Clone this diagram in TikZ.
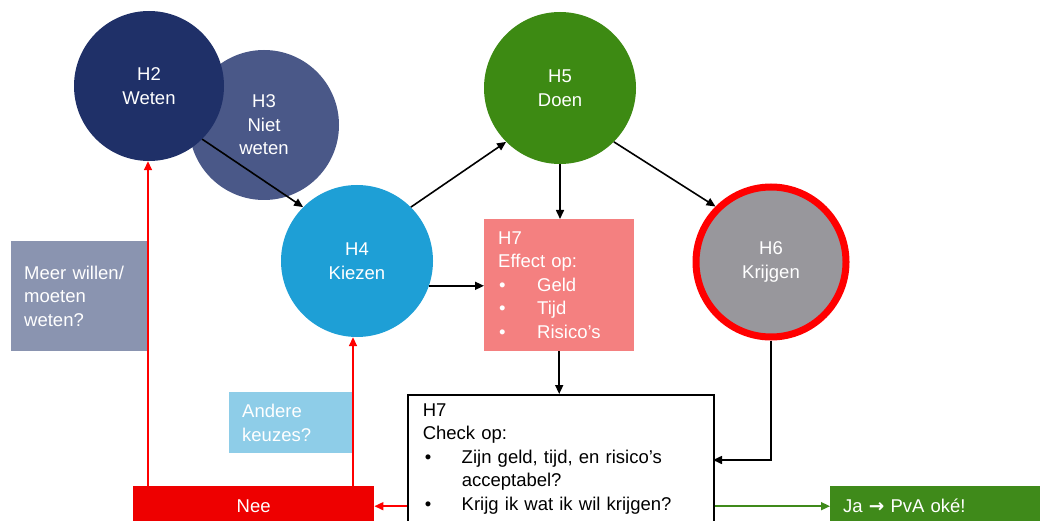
\documentclass[tikz,border=0pt]{standalone}
\usepackage{fontspec}
\setmainfont{Liberation Sans}
\newfontfamily\djv{DejaVu Sans}
\usetikzlibrary{arrows.meta}
\definecolor{cHtwo}{HTML}{1F3068}
\definecolor{cHthree}{HTML}{4A5888}
\definecolor{cHfour}{HTML}{1E9FD6}
\definecolor{cHfive}{HTML}{3D8A13}
\definecolor{cHsix}{HTML}{98979C}
\definecolor{cEffect}{HTML}{F48080}
\definecolor{cMeer}{HTML}{8A94B0}
\definecolor{cAndere}{HTML}{8ECDE8}
\definecolor{cNee}{HTML}{EE0000}
\definecolor{cJa}{HTML}{3F8A1A}
\begin{document}
\begin{tikzpicture}[x=1pt,y=-1pt,
  every node/.style={font=\fontsize{18.5}{23.5}\selectfont},
  circ/.style={circle, minimum size=150pt, inner sep=0pt, align=center, text=white},
  box/.style={rectangle, inner xsep=13pt, inner ysep=0pt, align=left, anchor=north west, text=white},
  arr/.style={line width=1.6pt, -{Triangle[length=9pt,width=8pt]}},
  redarr/.style={arr, draw=red},
  greenarr/.style={arr, draw=cJa}]
\useasboundingbox (0,0) rectangle (1043,521);
\clip (0,0) rectangle (1043,521);
% circles
\node[circ, fill=cHthree] (H3) at (264,125) {H3\\Niet\\weten};
\node[circ, fill=cHtwo] (H2) at (149,86) {H2\\Weten};
\node[circ, fill=cHfour, minimum size=152pt] (H4) at (357,261) {H4\\Kiezen};
\node[circ, fill=cHfive, minimum size=152pt] (H5) at (560,88) {H5\\Doen};
\node[circ, fill=cHsix, draw=red, line width=7pt, outer sep=3.5pt, minimum size=150pt] (H6) at (771,262) {H6\\Krijgen};
% boxes
\node[box, fill=cMeer, minimum width=137pt, minimum height=110pt, text width=111pt] (meer) at (11,241) {Meer willen/\\moeten\\weten?};
\node[box, fill=cEffect, inner xsep=14pt, minimum width=150pt, minimum height=132pt, text width=122pt] (effect) at (484,219)
  {H7\\Effect op:\\\makebox[39pt][l]{\hspace{1pt}•}Geld\\\makebox[39pt][l]{\hspace{1pt}•}Tijd\\\makebox[39pt][l]{\hspace{1pt}•}Risico’s};
\node[box, fill=cAndere, minimum width=125pt, minimum height=61pt, text width=99pt] (andere) at (229,392) {Andere\\keuzes?};
\node[box, draw=black, line width=1.5pt, text=black, inner xsep=14pt, inner ysep=9pt, minimum width=306pt, text width=276pt] (check) at (407,394)
  {H7\\Check op:\\\makebox[39pt][l]{\hspace{2pt}•}Zijn geld, tijd, en risico’s\\\hspace*{39pt}acceptabel?\\\makebox[39pt][l]{\hspace{2pt}•}Krijg ik wat ik wil krijgen?};
\node[rectangle, fill=cNee, text=white, anchor=north west, minimum width=241pt, minimum height=40pt, inner sep=0pt] (nee) at (133,486) {Nee};
\node[box, fill=cJa, minimum width=210pt, minimum height=40pt, text width=184pt] (ja) at (830,486) {Ja {\djv\bfseries →} PvA oké!};
% connectors
\draw[arr] (H2.-45) -- (H4.135);
\draw[arr] (H4.45) -- (H5.225);
\draw[arr] (H5.-45) -- (H6.135);
\draw[arr] (H5.south) -- (H5.south |- effect.north);
\draw[arr] (H4.-19) -- (H4.-19 -| effect.west);
\draw[arr] (effect.south) -- (effect.south |- check.north);
\coordinate (c6) at (713,460);
\draw[arr] (H6.south) |- (c6);
\draw[redarr] (check.west |- nee.east) -- (nee.east);
\draw[redarr] ([xshift=-1pt]H2.south |- nee.north) -- ([xshift=-1pt]H2.south);
\draw[redarr] ([xshift=-4pt]H4.south |- nee.north) -- ([xshift=-4pt]H4.south);
\draw[greenarr] (check.east |- ja.west) -- (ja.west);
\end{tikzpicture}
\end{document}
